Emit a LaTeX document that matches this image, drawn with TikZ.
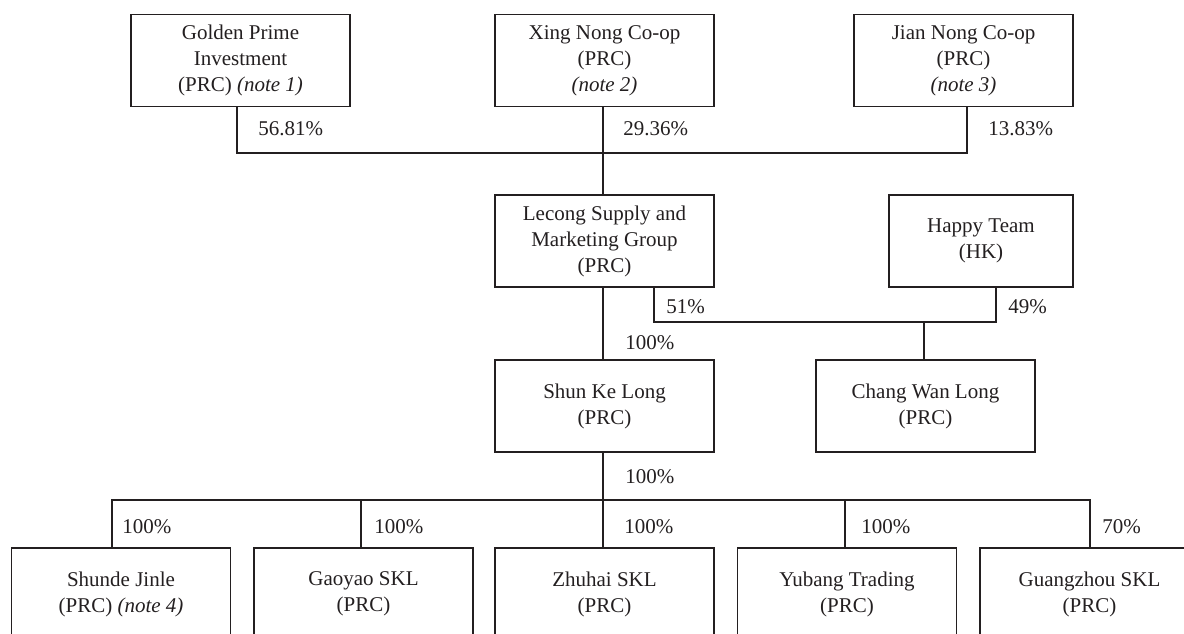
\documentclass[tikz,border=0pt]{standalone}
\usepackage{fontspec}
\setmainfont{Liberation Serif}
\definecolor{ink}{HTML}{231F20}
\begin{document}
\begin{tikzpicture}[x=0.5pt,y=-0.5pt,
  every node/.style={text=ink},
  entity/.style={draw=ink, line width=0.65pt, minimum width=109.5pt, minimum height=46pt,
    inner sep=0pt, align=center, font=\fontsize{10.5}{13}\selectfont},
  pct/.style={anchor=west, inner sep=0pt, font=\fontsize{10.5}{13}\selectfont},
  link/.style={draw=ink, line width=0.65pt}]
\useasboundingbox (0,0) rectangle (1184,633);
\clip (0,0) rectangle (1184,633);
% top row
\node[entity] (gp) at (240.5,60.5) {Golden Prime\\Investment\\(PRC) \textit{(note 1)}};
\node[entity] (xn) at (604.5,60.5) {Xing Nong Co-op\\(PRC)\\\textit{(note 2)}};
\node[entity] (jn) at (963.5,60.5) {Jian Nong Co-op\\(PRC)\\\textit{(note 3)}};
% middle
\node[entity] (lc) at (604.5,241) {Lecong Supply and\\Marketing Group\\(PRC)};
\node[entity, minimum width=92pt] (ht) at (981,241) {Happy Team\\(HK)};
\node[entity] (skl) at (604.5,406) {Shun Ke Long\\(PRC)};
\node[entity] (cwl) at (925.5,406) {Chang Wan Long\\(PRC)};
% bottom row
\node[entity] (b1) at (121,594) {Shunde Jinle\\(PRC) \textit{(note 4)}};
\node[entity] (b2) at (363.5,594) {Gaoyao SKL\\(PRC)};
\node[entity] (b3) at (604.5,594) {Zhuhai SKL\\(PRC)};
\node[entity] (b4) at (847,594) {Yubang Trading\\(PRC)};
\node[entity] (b5) at (1089.5,594) {Guangzhou SKL\\(PRC)};
% junctions
\coordinate (j1) at (603,153);
\coordinate (j2) at (924,322);
\coordinate (j3) at (603,500);
% connectors
\draw[link] ([xshift=-1.75pt]gp.south) |- (j1);
\draw[link] ([xshift=1.75pt]jn.south) |- (j1);
\draw[link] ([xshift=-0.75pt]xn.south) -- ([xshift=-0.75pt]lc.north);
\draw[link] ([xshift=-0.75pt]lc.south) -- ([xshift=-0.75pt]skl.north);
\draw[link] ([xshift=24.75pt]lc.south) |- (j2);
\draw[link] ([xshift=7.5pt]ht.south) |- (j2);
\draw[link] (j2) -- (j2 |- cwl.north);
\draw[link] ([xshift=-0.75pt]skl.south) -- (j3);
\draw[link] (j3) -| ([xshift=-4.5pt]b1.north);
\draw[link] (j3) -| ([xshift=0.25pt]b5.north);
\draw[link] ([xshift=-1.25pt]b2.north) -- ([xshift=-1.25pt]b2.north |- j3);
\draw[link] (j3) -- ([xshift=-0.75pt]b3.north);
\draw[link] ([xshift=-1pt]b4.north) -- ([xshift=-1pt]b4.north |- j3);
% percentages
\node[pct] (p1) at (258,129) {56.81\%};
\node[pct] (p2) at (623,129) {29.36\%};
\node[pct] (p3) at (988,129) {13.83\%};
\node[pct] (p4) at (666,307) {51\%};
\node[pct] (p5) at (1008,307) {49\%};
\node[pct] (p6) at (625,343) {100\%};
\node[pct] (p7) at (625,477) {100\%};
\node[pct] (p8) at (122,527) {100\%};
\node[pct] (p9) at (374,527) {100\%};
\node[pct] (p10) at (624,527) {100\%};
\node[pct] (p11) at (861,527) {100\%};
\node[pct] (p12) at (1102,527) {70\%};
\end{tikzpicture}
\end{document}
